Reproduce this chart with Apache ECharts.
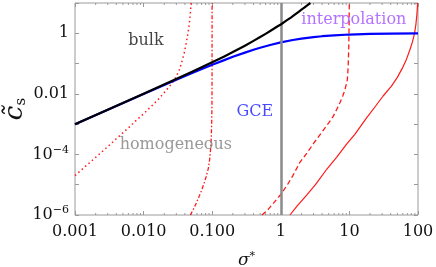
<!DOCTYPE html>
<html><head><meta charset="utf-8">
<script src="https://cdn.jsdelivr.net/npm/echarts@6/dist/echarts.min.js"></script>
<style>html,body{margin:0;padding:0;background:#fff}#c{width:436px;height:267px}</style>
</head><body><div id="c"></div>
<script>
// ---- data ----
const bulkX = [0.001, 0.01, 0.05, 0.1, 0.15, 0.2, 0.3, 0.4, 0.5, 0.6, 0.7, 0.8, 0.9, 1, 1.2, 1.4, 1.6, 1.8, 2, 2.2, 2.4, 2.6, 2.7];
const bulkY = [0.001, 0.0101, 0.0525, 0.11, 0.172, 0.24, 0.39, 0.56, 0.75, 0.96, 1.19, 1.44, 1.71, 1.95, 2.6, 3.3, 4.1, 5.0, 6.0, 7.0, 8.2, 9.4, 10];
const gceX = [0.001, 0.01, 0.03, 0.05, 0.1, 0.15, 0.2, 0.3, 0.4, 0.5, 0.7, 1, 1.5, 2, 3, 4, 6, 10, 20, 40, 100];
const gceY = [0.001, 0.0099, 0.029, 0.048, 0.091, 0.13, 0.167, 0.23, 0.285, 0.333, 0.41, 0.5, 0.6, 0.667, 0.75, 0.8, 0.857, 0.91, 0.95, 0.975, 0.99];
const homDotX = [0.001, 0.0015, 0.002, 0.003, 0.004, 0.006, 0.008, 0.01, 0.013, 0.016, 0.02, 0.024, 0.0272, 0.03, 0.033, 0.036, 0.039, 0.042, 0.044, 0.046, 0.0475, 0.0485, 0.0492];
const homDotY = [2e-5, 4.5e-5, 8e-5, 1.8e-4, 3.3e-4, 7.5e-4, 1.4e-3, 2.2e-3, 3.9e-3, 6.2e-3, 0.011, 0.018, 0.026, 0.038, 0.06, 0.11, 0.22, 0.5, 0.9, 1.8, 3.5, 6, 10];
const homDashDotX = [0.048, 0.055, 0.062, 0.07, 0.076, 0.082, 0.0877, 0.092, 0.095, 0.097, 0.0985, 0.0992, 0.0995, 0.0997];
const homDashDotY = [1e-6, 1.8e-6, 3.3e-6, 6.5e-6, 1.1e-5, 1.9e-5, 3.4e-5, 7e-5, 1.6e-4, 3.8e-4, 1.3e-3, 5e-3, 0.03, 10];
const homDashX = [0.53, 0.65, 0.8, 1.0, 1.25, 1.5, 1.9, 2.4, 3, 3.6, 4.2, 5, 5.8, 6.5, 7.3, 8, 8.6, 9.33, 9.6, 9.8, 9.9, 9.96];
const homDashY = [1e-6, 1.5e-6, 2.6e-6, 4.8e-6, 1e-5, 2e-5, 5.5e-5, 1.1e-4, 2.3e-4, 4e-4, 6.5e-4, 1.1e-3, 1.8e-3, 3e-3, 5.2e-3, 8.5e-3, 0.0135, 0.029, 0.08, 0.4, 2, 10];
const homSolidX = [1.36, 1.7, 2.4, 3.2, 4.7, 6.5, 9.1, 12, 17.8, 24, 31, 41, 50, 60, 68, 76, 83, 89, 93, 96, 97.7, 98.6];
const homSolidY = [1e-6, 1.9e-6, 4.6e-6, 1.0e-5, 3.3e-5, 8e-5, 2.2e-4, 4.6e-4, 1.6e-3, 3.9e-3, 8.5e-3, 0.018, 0.035, 0.075, 0.14, 0.28, 0.52, 1.0, 1.9, 3.8, 6.5, 10];
const refLineX = 1;
const xTickVals = [0.001, 0.01, 0.1, 1, 10, 100];
const xTickText = ['0.001', '0.010', '0.100', '1', '10', '100'];
const yTickVals = [1e-6, 1e-4, 1e-2, 1];
const yTickText = ['10{sup|−6}', '10{sup|−4}', '0.01', '1'];
const minorMantissas = [2, 3, 4, 5, 6, 7, 8, 9];
const labelText = ['bulk', 'interpolation', 'GCE', 'homogeneous'];
const labelX = [0.0108, 11.6, 0.417, 0.0295];
const labelY = [0.56, 2.75, 0.00257, 2.0e-4];
const labelColor = ['#111111', '#a34dff', '#1a1aff', '#808080'];

const zip = (a, b) => a.map((v, i) => [v, b[i]]);
const FONT = 'DejaVu Serif';
const frame = '#9a9a9a';

const xMinor = [];
for (let d = 0; d < xTickVals.length - 1; d++) for (const m of minorMantissas) xMinor.push(m * xTickVals[d]);

function tickLabel(vals, texts) {
  return function (v) {
    for (let i = 0; i < vals.length; i++) if (Math.abs(Math.log10(v) - Math.log10(vals[i])) < 1e-6) return texts[i];
    return '';
  };
}

const chart = echarts.init(document.getElementById('c'), null, {renderer: 'canvas'});
const lineSeries = (data, color, type, w, z) => ({
  type: 'line', data, showSymbol: false, symbol: 'none', silent: true,
  lineStyle: {color, width: w, type, join: 'round', cap: 'butt'}, z
});

chart.setOption({
  animation: false,
  grid: {left: 75, right: 18, top: 3, bottom: 52, show: true, borderColor: frame, borderWidth: 1,
         backgroundColor: 'transparent', containLabel: false, outerBoundsMode: 'none'},
  xAxis: [{
    type: 'log', logBase: 10, min: 0.001, max: 100,
    axisLine: {show: false},
    axisTick: {show: true, inside: true, length: 4, lineStyle: {color: frame}},
    splitLine: {show: false},
    axisLabel: {formatter: tickLabel(xTickVals, xTickText), fontFamily: FONT, fontSize: 16, color: '#111', margin: 9},
    name: '{i|σ}{sup|*}', nameLocation: 'middle', nameGap: 36, nameMoveOverlap: false,
    nameTextStyle: {rich: {i: {fontFamily: FONT, fontStyle: 'italic', fontSize: 17, color: '#111'},
                           sup: {fontFamily: FONT, fontSize: 11, color: '#111', verticalAlign: 'top', padding: [0,0,8,0]}}}
  }, {
    type: 'log', logBase: 10, min: 0.001, max: 100, position: 'top',
    axisLine: {show: false}, axisLabel: {show: false}, splitLine: {show: false},
    axisTick: {show: true, inside: true, length: 4, lineStyle: {color: frame}}
  }],
  yAxis: [{
    type: 'log', logBase: 10, min: 1e-6, max: 10,
    axisLine: {show: false},
    axisTick: {show: true, inside: true, length: 4, lineStyle: {color: frame}},
    splitLine: {show: false},
    axisLabel: {formatter: tickLabel(yTickVals, yTickText), fontFamily: FONT, fontSize: 16, color: '#111', margin: 6,
      rich: {sup: {fontFamily: FONT, fontSize: 11, color: '#111', verticalAlign: 'top', padding: [0,0,9,0]}}},
    name: '{c|c̃}{s|s}', nameLocation: 'middle', nameRotate: 90, nameGap: 43, nameMoveOverlap: false,
    nameTextStyle: {rich: {c: {fontFamily: FONT, fontStyle: 'italic', fontSize: 26, color: '#111', lineHeight: 34},
                           s: {fontFamily: FONT, fontSize: 15, color: '#111', padding: [12,0,0,0]}}}
  }, {
    type: 'log', logBase: 10, min: 1e-6, max: 10, position: 'right',
    axisLine: {show: false}, axisLabel: {show: false}, splitLine: {show: false},
    axisTick: {show: true, inside: true, length: 4, lineStyle: {color: frame}}
  }],
  series: [
    {type: 'custom', silent: true, z: 1, data: xMinor.map(v => [v, 1]),
     renderItem: function (params, api) {
       const cs = params.coordSys; const p = api.coord([api.value(0), 1]);
       const st = {stroke: frame, lineWidth: 1};
       return {type: 'group', children: [
         {type: 'line', shape: {x1: p[0], y1: cs.y + cs.height, x2: p[0], y2: cs.y + cs.height - 2}, style: st},
         {type: 'line', shape: {x1: p[0], y1: cs.y, x2: p[0], y2: cs.y + 2}, style: st}
       ]};
     }},
    {type: 'line', data: [], silent: true, z: 2,
     markLine: {symbol: 'none', silent: true, label: {show: false},
       lineStyle: {color: '#8a8a8a', width: 2.5, type: 'solid'}, data: [{xAxis: refLineX}]}},
    lineSeries(zip(homDotX, homDotY), '#ff1a1a', [1.5, 3], 1.5, 3),
    lineSeries(zip(homDashDotX, homDashDotY), '#ff1a1a', [4, 2, 1.5, 2], 1.3, 3),
    lineSeries(zip(homDashX, homDashY), '#ff1a1a', [5, 3], 1.3, 3),
    lineSeries(zip(homSolidX, homSolidY), '#ff1a1a', 'solid', 1.2, 3),
    lineSeries(zip(gceX, gceY), '#0000ff', 'solid', 2.2, 4),
    lineSeries(zip(bulkX, bulkY), '#000000', 'solid', 2.2, 5),
    {type: 'scatter', silent: true, z: 6, symbolSize: 1, itemStyle: {color: 'rgba(0,0,0,0)'},
     data: labelText.map((t, i) => ({value: [labelX[i], labelY[i]], name: t,
       label: {show: true, position: 'inside', formatter: t, color: labelColor[i], fontFamily: FONT, fontSize: 16}}))}
  ]
});
</script></body></html>
